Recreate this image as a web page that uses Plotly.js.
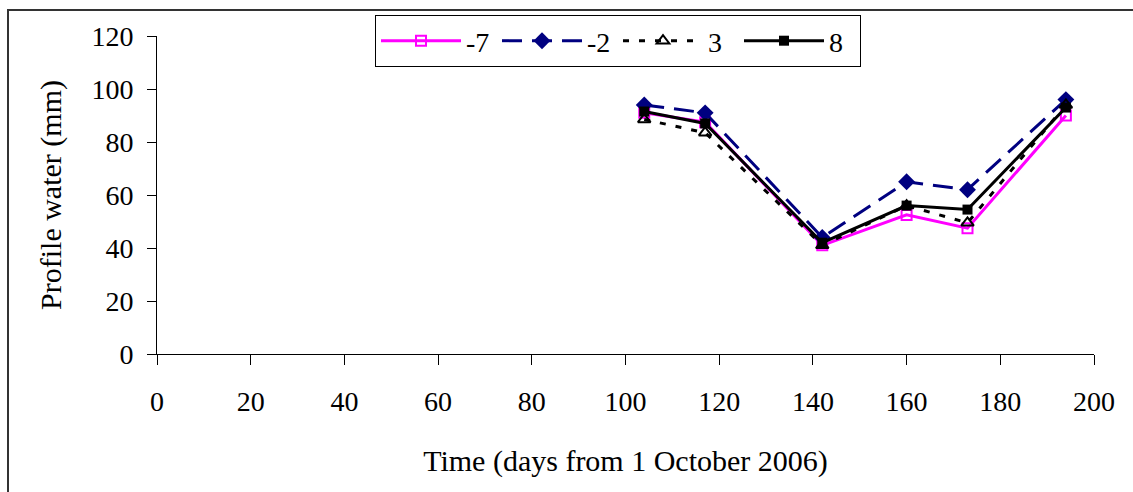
<!DOCTYPE html>
<html>
<head>
<meta charset="utf-8">
<script src="https://cdn.plot.ly/plotly-3.0.1.min.js"></script>
<style>
  html, body { margin: 0; padding: 0; background: #fff; }
  #chart { width: 1133px; height: 492px; }
</style>
</head>
<body>
<div id="chart"></div>
<script>
// Days from 1 October 2006
const days = [104, 117, 142, 160, 173, 194];

// Series names
const seriesNames = ['-7', '-2', '3', '8'];

// Profile water (mm) for each series
const waterM7 = [91, 87.5, 41, 52.5, 47.5, 90];
const waterM2 = [94, 91, 44, 65, 62, 96];
const water3  = [88.5, 83.5, 41, 56, 49.5, 94];
const water8  = [91.5, 87, 42, 56, 54.5, 93];

const xTicks = [0, 20, 40, 60, 80, 100, 120, 140, 160, 180, 200];
const yTicks = [0, 20, 40, 60, 80, 100, 120];

const FONT = '"Liberation Serif", "Times New Roman", Times, serif';

const traces = [
  {
    x: days, y: waterM7, name: seriesNames[0], type: 'scatter', mode: 'lines+markers',
    line: { color: '#FF00FF', width: 3 },
    marker: { symbol: 'square-open', size: 10, color: '#FF00FF', line: { width: 2, color: '#FF00FF' } }
  },
  {
    x: days, y: waterM2, name: seriesNames[1], type: 'scatter', mode: 'lines+markers',
    line: { color: '#000080', width: 3, dash: '20px,10px' },
    marker: { symbol: 'diamond', size: 13, color: '#000080' }
  },
  {
    x: days, y: water3, name: seriesNames[2], type: 'scatter', mode: 'lines+markers',
    line: { color: '#000000', width: 3, dash: '6px,10px' },
    marker: { symbol: 'triangle-up-open', size: 11, color: '#000000', line: { width: 2, color: '#000000' } }
  },
  {
    x: days, y: water8, name: seriesNames[3], type: 'scatter', mode: 'lines+markers',
    line: { color: '#000000', width: 3 },
    marker: { symbol: 'square', size: 10, color: '#000000' }
  }
];

const plotL = 157, plotR = 1094, plotT = 36, plotB = 354;
const pw = plotR - plotL, ph = plotB - plotT;

const layout = {
  width: 1133, height: 492,
  margin: { l: plotL, r: 1133 - plotR, t: plotT, b: 492 - plotB, pad: 0 },
  paper_bgcolor: '#ffffff', plot_bgcolor: '#ffffff',
  font: { family: FONT, size: 28, color: '#000000' },
  showlegend: true,
  legend: {
    orientation: 'h',
    x: (375 - plotL) / pw, xanchor: 'left',
    y: (plotB - 15) / ph, yanchor: 'top',
    bordercolor: '#000000', borderwidth: 1,
    bgcolor: '#ffffff',
    font: { family: FONT, size: 28, color: '#000000' },
    itemwidth: 80,
    entrywidth: 26, entrywidthmode: 'pixels',
    tracegroupgap: 0
  },
  xaxis: {
    range: [0, 200], tickvals: xTicks, ticktext: xTicks.map(String),
    showgrid: false, zeroline: false,
    showline: true, linecolor: '#000000', linewidth: 1,
    ticks: 'outside', ticklen: 10, tickcolor: '#000000', tickwidth: 1,
    ticklabelstandoff: 12,
    tickfont: { family: FONT, size: 28, color: '#000000' },
    title: { text: 'Time (days from 1 October 2006)', font: { family: FONT, size: 30, color: '#000000' }, standoff: 34 },
    automargin: false, fixedrange: true
  },
  yaxis: {
    range: [0, 120], tickvals: yTicks, ticktext: yTicks.map(String),
    showgrid: false, zeroline: false,
    showline: true, linecolor: '#000000', linewidth: 1,
    ticks: 'outside', ticklen: 9, tickcolor: '#000000', tickwidth: 1,
    ticklabelstandoff: 8,
    tickfont: { family: FONT, size: 28, color: '#000000' },
    title: { text: 'Profile water (mm)', font: { family: FONT, size: 30, color: '#000000' }, standoff: 20 },
    automargin: false, fixedrange: true
  },
  shapes: [
    {
      type: 'rect', xref: 'paper', yref: 'paper', layer: 'below',
      x0: (8 - plotL) / pw, x1: (1145 - plotL) / pw,
      y0: (plotB - 505) / ph, y1: (plotB - 10) / ph,
      line: { color: '#333333', width: 2 }, fillcolor: 'rgba(0,0,0,0)'
    }
  ]
};

Plotly.newPlot('chart', traces, layout, { displayModeBar: false, staticPlot: true });
</script>
</body>
</html>
